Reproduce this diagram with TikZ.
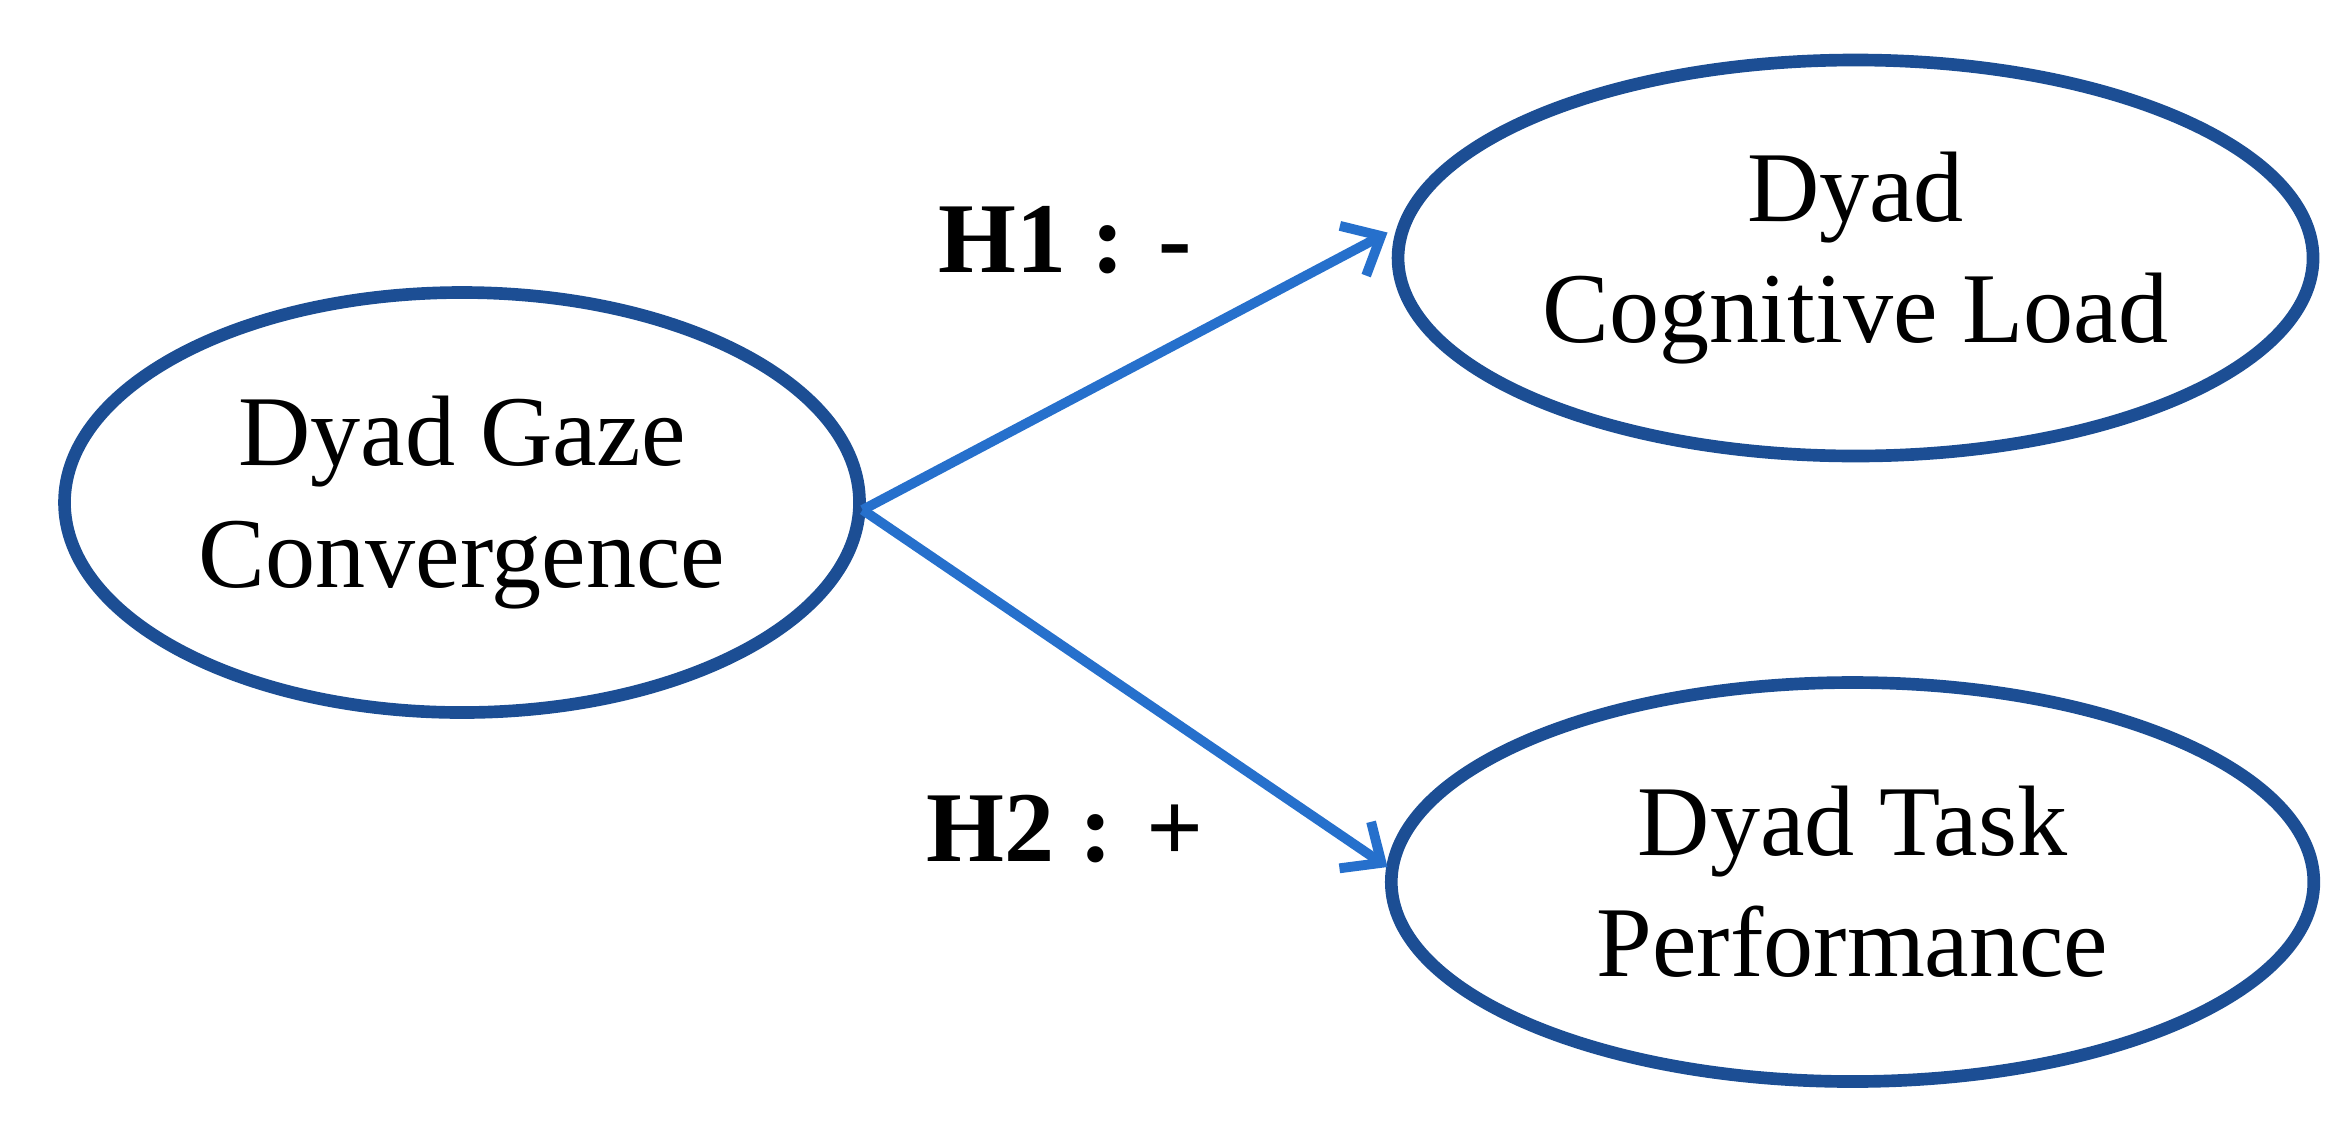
\documentclass[tikz,border=0pt]{standalone}
\usepackage{fontspec}
\setmainfont{Liberation Serif}
\usetikzlibrary{shapes.geometric,arrows.meta}
\definecolor{ell}{RGB}{28,78,148}
\definecolor{arr}{RGB}{38,112,204}
\tikzset{
 ov/.style={draw=ell,line width=3.6pt,ellipse,inner sep=0pt,minimum width=#1,align=center,font=\fontsize{19}{23}\selectfont},
 ar/.style={draw=arr,line width=2.8pt,-{Straight Barb[length=9pt,width=16pt,line width=2.8pt]}},
 lab/.style={font=\fontsize{19}{23}\selectfont\bfseries}
}
\begin{document}
\begin{tikzpicture}[scale=1.5,transform shape]
\useasboundingbox (0,0) rectangle (15.653,7.567);
\begin{scope}[yshift=-3.783cm]
\node[ov=5.3cm,minimum height=2.8cm] (a) at (3.08,8.0) {Dyad Gaze\\Convergence};
\node[ov=6.1cm,minimum height=2.64cm] (b) at (12.37,9.63) {Dyad\\Cognitive Load};
\node[ov=6.15cm,minimum height=2.66cm] (c) at (12.35,5.47) {Dyad Task\\Performance};
\coordinate (s) at (5.75,7.95);
\draw[ar] (s) -- (9.25,9.8);
\draw[ar] (s) -- (9.25,5.57);
\node[lab] (h1) at (7.1,9.75) {H1 : -};
\node[lab] (h2) at (7.1,5.82) {H2 : +};
\end{scope}
\end{tikzpicture}
\end{document}
